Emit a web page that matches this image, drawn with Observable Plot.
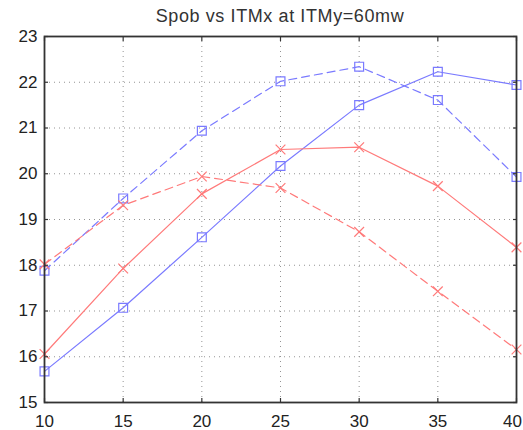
<!DOCTYPE html>
<html>
<head>
<meta charset="utf-8">
<script src="https://cdn.jsdelivr.net/npm/d3@7"></script>
<script src="https://cdn.jsdelivr.net/npm/@observablehq/plot@0.6"></script>
<style>
  body { margin: 0; background: #fff; font-family: "Liberation Sans", Arial, sans-serif; }
  #title { margin-left: 44px; width: 472px; height: 28px; line-height: 33px; text-align: center; font-size: 18px; letter-spacing: 0.6px; color: #333; white-space: nowrap; }
</style>
</head>
<body>
<div id="title">Spob vs ITMx at ITMy=60mw</div>
<div id="chart"></div>
<script>
// ITMx power settings (x) and Spob readings for each run
const itmx = [10, 15, 20, 25, 30, 35, 40];
const blueSolid  = [15.68, 17.07, 18.61, 20.17, 21.50, 22.23, 21.94];
const blueDashed = [17.88, 19.46, 20.94, 22.02, 22.34, 21.61, 19.93];
const redSolid   = [16.06, 17.93, 19.56, 20.53, 20.58, 19.73, 18.39];
const redDashed  = [18.02, 19.31, 19.94, 19.69, 18.73, 17.43, 16.16];

const xTicks = [10, 15, 20, 25, 30, 35, 40];
const yTicks = [15, 16, 17, 18, 19, 20, 21, 22, 23];

const BLUE = "#7a7aff";
const RED = "#ff7a7a";

const rows = (ys) => itmx.map((x, i) => ({x, y: ys[i]}));

const series = [
  {data: rows(blueSolid),  color: BLUE, dash: null,  symbol: "square", r: 5},
  {data: rows(blueDashed), color: BLUE, dash: "8,5", symbol: "square", r: 5},
  {data: rows(redSolid),   color: RED,  dash: null,  symbol: "times",  r: 4.5},
  {data: rows(redDashed),  color: RED,  dash: "8,5", symbol: "times",  r: 4.5}
];

// short inward tick marks on every side of the box
const tickAxis = (fn, anchor, ticks) =>
  fn(ticks, {anchor, tickSize: -4, fill: "none", stroke: "#333", strokeWidth: 1.2, label: null});

const chart = Plot.plot({
  width: 523,
  height: 402,
  marginLeft: 44,
  marginRight: 7,
  marginTop: 8,
  marginBottom: 28,
  style: {fontFamily: "'Liberation Sans', Arial, sans-serif", fontSize: "17px", color: "#222", background: "#fff", overflow: "visible"},
  x: {domain: [10, 40]},
  y: {domain: [15, 23]},
  marks: [
    Plot.gridX(xTicks, {stroke: "#888", strokeOpacity: 0.9, strokeDasharray: "1,4"}),
    Plot.gridY(yTicks, {stroke: "#888", strokeOpacity: 0.9, strokeDasharray: "1,4"}),
    ...series.flatMap(s => [
      Plot.line(s.data, {x: "x", y: "y", stroke: s.color, strokeWidth: 1.2, strokeDasharray: s.dash}),
      Plot.dot(s.data, {x: "x", y: "y", stroke: s.color, strokeWidth: 1.2, symbol: s.symbol, r: s.r, fill: "none"})
    ]),
    // x labels; the last one is nudged left so it stays inside the page
    Plot.axisX(xTicks.slice(0, -1), {anchor: "bottom", tickSize: 0, tickPadding: 12, label: null}),
    Plot.axisX(xTicks.slice(-1), {anchor: "bottom", tickSize: 0, tickPadding: 12, label: null, dx: -4}),
    Plot.axisY(yTicks, {anchor: "left", tickSize: 0, tickPadding: 7, label: null}),
    tickAxis(Plot.axisX, "bottom", xTicks),
    tickAxis(Plot.axisX, "top", xTicks),
    tickAxis(Plot.axisY, "left", yTicks),
    tickAxis(Plot.axisY, "right", yTicks),
    Plot.frame({stroke: "#333", strokeWidth: 1.8})
  ]
});

document.getElementById("chart").append(chart);
</script>
</body>
</html>
